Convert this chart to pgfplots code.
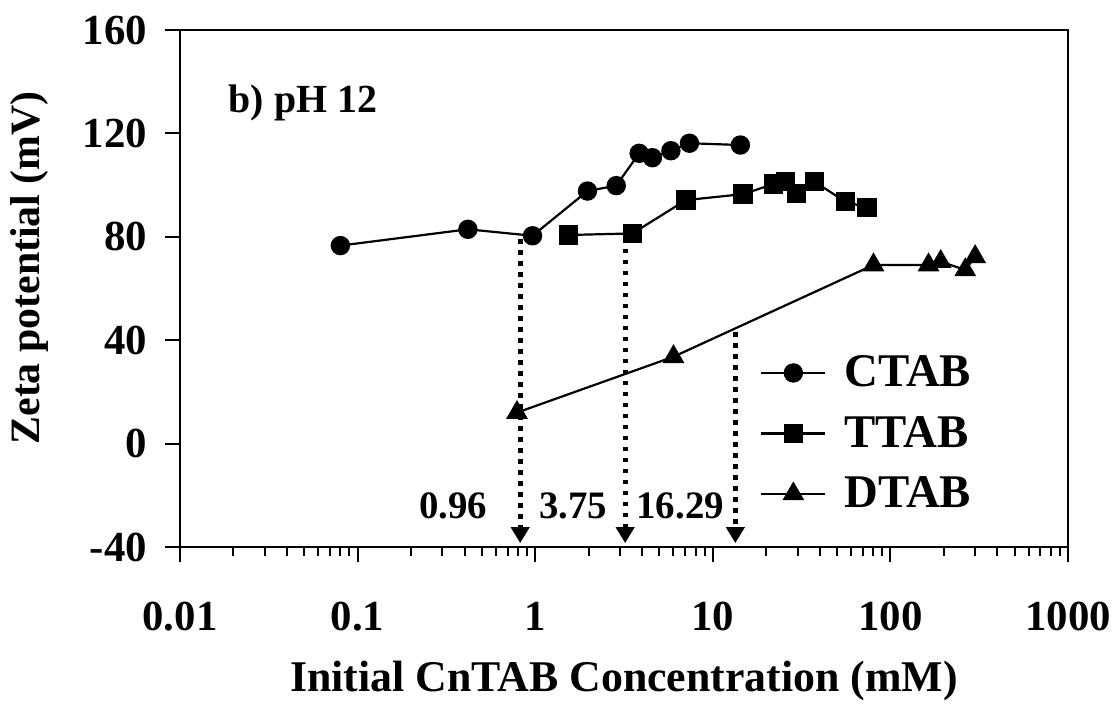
\documentclass[border=0pt]{standalone}
\usepackage{pgfplots}
\pgfplotsset{compat=1.18}
\usepackage{fontspec}
\setmainfont{Liberation Serif}
\usetikzlibrary{arrows.meta}

\begin{document}
\begin{tikzpicture}
\path[use as bounding box] (-90bp,-84bp) rectangle (466.5bp,273.5bp);
\begin{axis}[
  at={(0bp,0bp)}, anchor=south west,
  scale only axis, width=444bp, height=258.5bp,
  xmode=log, xmin=0.01, xmax=1000, ymin=-40, ymax=160,
  ytick={-40,0,40,80,120,160},
  xtick={0.01,0.1,1,10,100,1000},
  xticklabels={0.01,0.1,1,10,100,1000},
  /pgf/number format/assume math mode=true,
  tick align=outside, xtick pos=bottom, ytick pos=left,
  major tick length=7.5bp, minor tick length=4.5bp,
  axis line style={line width=1.2bp},
  every tick/.style={black, line width=1bp},
  ticklabel style={font=\bfseries\fontsize{21.5}{23}\selectfont},
  yticklabel style={xshift=-5.5bp},
  xticklabel style={yshift=-16.5bp},
  xlabel={Initial CnTAB Concentration (mM)},
  ylabel={Zeta potential (mV)},
  label style={font=\bfseries\fontsize{21}{24}\selectfont},
  xlabel style={at={(axis description cs:0.5,-0.26)}, anchor=center, font=\bfseries\fontsize{22}{24}\selectfont},
  ylabel style={at={(axis description cs:-0.169,0.54)}, anchor=center},
  clip=false,
  legend cell align=left,
  legend style={draw=none, fill=none, at={(axis description cs:0.653,0.378)}, anchor=north west,
    font=\bfseries\fontsize{23.5}{25}\selectfont, row sep=9.3bp, inner sep=0pt,
    /tikz/every odd column/.append style={column sep=7bp}},
  legend image code/.code={\draw[#1, mark repeat=2, mark phase=2] plot coordinates {(0bp,0bp) (16bp,0bp) (32bp,0bp)};},
]
\addplot[black, line width=1.1bp, mark=*, mark size=4.3bp, mark options={solid}] coordinates {
 (0.080,76.6) (0.418,82.9) (0.966,80.4) (1.97,97.7) (2.86,99.8) (3.85,112.3)
 (4.57,110.6) (5.81,113.3) (7.39,116.2) (14.3,115.5)};
\addlegendentry{CTAB}
\addplot[black, line width=1.1bp, mark=square*, mark size=4.3bp, mark options={solid}] coordinates {
 (1.54,80.7) (3.53,81.3) (7.06,94.2) (14.8,96.5) (22.0,100.4) (25.6,101.3)
 (29.5,96.8) (37.4,101.3) (55.7,93.6) (73.8,91.3)};
\addlegendentry{TTAB}
\addplot[black, line width=1.1bp, mark=triangle*, mark size=5.2bp, mark options={solid}] coordinates {
 (0.79,12.0) (6.01,33.6) (80.3,69.1) (164,69.1) (192,70.4) (264,67.2) (300,72.3)};
\addlegendentry{DTAB}
\draw[line width=2.5bp, dash pattern=on 2.2bp off 3.3bp, -{Triangle[width=9bp,length=8bp]}] (axis cs:0.823,79) -- (axis cs:0.823,-38.5);
\draw[line width=2.5bp, dash pattern=on 2.2bp off 3.3bp, -{Triangle[width=9bp,length=8bp]}] (axis cs:3.21,79.5) -- (axis cs:3.21,-38.5);
\draw[line width=2.5bp, dash pattern=on 2.2bp off 3.3bp, -{Triangle[width=9bp,length=8bp]}] (axis cs:13.4,43) -- (axis cs:13.4,-38.5);
\node[anchor=base, font=\bfseries\fontsize{19.5}{21}\selectfont] at (axis cs:0.345,-28.8) {0.96};
\node[anchor=base, font=\bfseries\fontsize{19.5}{21}\selectfont] at (axis cs:1.64,-28.8) {3.75};
\node[anchor=base, font=\bfseries\fontsize{19.5}{21}\selectfont] at (axis cs:6.55,-28.8) {16.29};
\node[anchor=base west, font=\bfseries\fontsize{20}{24}\selectfont] at (rel axis cs:0.047,0.84) {b) pH 12};
\end{axis}
\end{tikzpicture}
\end{document}
